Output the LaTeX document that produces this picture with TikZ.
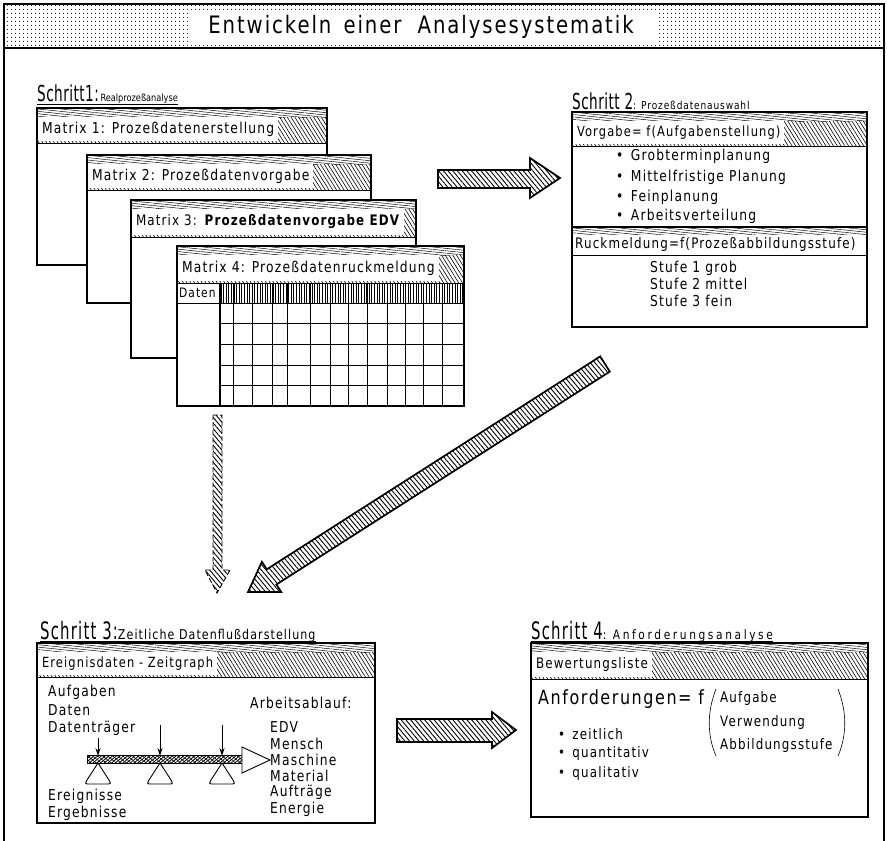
\documentclass[tikz,border=0pt]{standalone}
\usepackage{fontspec}
\setmainfont{DejaVu Sans}[FakeStretch=0.82, LetterSpace=8]
\newfontfamily\schfont{DejaVu Sans}[FakeStretch=0.62, LetterSpace=2]
\usetikzlibrary{patterns.meta,arrows.meta}
\tikzset{
  frameline/.style={line width=2.4pt},
  boxline/.style={line width=1.7pt},
  thinrule/.style={line width=0.9pt},
  gridline/.style={line width=0.7pt},
  steephatch/.style={pattern={Lines[angle=-58,distance=3.2pt,line width=0.6pt]}},
  flathatch/.style={pattern={Lines[angle=-6,distance=2.4pt,line width=0.5pt]}},
  verthatch/.style={pattern={Lines[angle=90,distance=2.6pt,line width=0.7pt]}},
  arrowhatch/.style={pattern={Lines[angle=-50,distance=3.6pt,line width=0.9pt]}},
  crosshatchA/.style={pattern={Lines[angle=40,distance=2.4pt,line width=0.8pt]}},
  crosshatchB/.style={pattern={Lines[angle=-40,distance=3.2pt,line width=0.6pt]}},
  dotfill/.style={pattern={Dots[distance=4pt,radius=0.65pt]}},
  txt/.style={anchor=west, inner sep=0pt},
  item/.style={txt, font=\fontsize{15}{17}\selectfont},
  fitem/.style={txt, font=\fontsize{14.5}{16}\selectfont},
  steplbl/.style={anchor=base west, inner sep=0pt},
  bigarrow/.style={boxline, arrowhatch},
}
% card: L,T,R,B,H(header bottom),label,name,font size
\newcommand{\card}[8]{%
  \fill[white] (#1,#2) rectangle (#3,#4);
  \fill[steephatch] (#1,#2) rectangle (#3,#5);
  \fill[white] (#1,#2) rectangle (#3,{#2+9});
  \fill[flathatch] (#1,#2) rectangle (#3,{#2+9});
  \node[txt, font=\fontsize{#8}{#8}\selectfont, fill=white, inner xsep=4pt,
        minimum height={#5-#2-11}] (#7) at ({#1+0.8},{(#2+9+#5-2)/2}) {#6};
  \draw[boxline] (#1,#2) rectangle (#3,#4);
  \draw[thinrule] (#1,#5) -- (#3,#5);
}
\newcommand{\schA}{\schfont\fontsize{22}{24}\selectfont}
\newcommand{\schB}{\schfont\fontsize{24}{26}\selectfont\addfontfeatures{LetterSpace=5}}
\begin{document}
\begin{tikzpicture}[x=1pt,y=-1pt]
\useasboundingbox (0,0) rectangle (887,841);
\fill[white] (0,0) rectangle (887,841);

% ---------- frame and header ----------
\fill[dotfill] (4,4) rectangle (884,48);
\fill[white] (190,12) rectangle (657,42);
\node[font=\fontsize{24}{26}\selectfont, inner sep=0pt] (title) at (421,27) {Entwickeln\, einer\,\, Analysesystematik};
\draw[frameline] (4,841) -- (4,4) -- (884,4) -- (884,841);
\draw[frameline] (4,48) -- (884,48);

% ---------- Schritt 1 ----------
\node[steplbl] (s1) at (37,101) {{\schA Schritt1:}\,{\fontsize{10}{12}\selectfont\addfontfeatures{LetterSpace=0}Realprozeßanalyse}};
\draw[thinrule] (37,104) -- (s1.south east |- 0,104);

\card{37}{108}{327}{265}{143}{Matrix 1: Prozeßdatenerstellung}{m1}{15}
\card{87}{155}{371}{303}{190}{Matrix 2: Prozeßdatenvorgabe}{m2}{15}
\card{131}{200}{416}{358}{237}{Matrix 3: \textbf{Prozeßdatenvorgabe EDV}}{m3}{14.5}
\card{177}{246}{464}{406}{283}{Matrix 4: Prozeßdatenruckmeldung}{m4}{15}

% Matrix 4 grid
\fill[verthatch] (220,283) rectangle (464,303);
\node[txt, font=\fontsize{13}{15}\selectfont] (daten) at (179,293) {Daten};
\foreach \gx in {233,252,272,287,310,330,348,367,387,405,423,442}
  \draw[gridline] (\gx,283) -- (\gx,406);
\draw[thinrule] (177,303) -- (464,303);
\foreach \gy in {323,344,365,385}
  \draw[gridline] (220,\gy) -- (464,\gy);
\draw[boxline] (220,283) -- (220,406);
\draw[boxline] (177,246) rectangle (464,406);

% ---------- arrow 1 -> 2 ----------
\draw[bigarrow] (438,170) -- (530,170) -- (530,158) -- (560,178) -- (530,198) -- (530,188) -- (438,188) -- cycle;

% ---------- Schritt 2 ----------
\node[steplbl] (s2) at (572,109) {{\schA Schritt 2}{\fontsize{11}{13}\selectfont : Prozeßdatenauswahl}};
\draw[thinrule] (572,111) -- (s2.south east |- 0,111);
\fill[white] (572,112) rectangle (867,327);
\fill[steephatch] (572,112) rectangle (867,146);
\fill[white] (572,112) rectangle (867,121);
\fill[flathatch] (572,112) rectangle (867,121);
\node[txt, font=\fontsize{14}{16}\selectfont, fill=white, inner xsep=4pt, minimum height=23] (vorg) at (572.8,132.5) {Vorgabe= f(Aufgabenstellung)};
\draw[thinrule] (572,146) -- (867,146);
\node[item] (b1) at (616,156) {•\enspace Grobterminplanung};
\node[item] (b2) at (616,177) {•\enspace Mittelfristige Planung};
\node[item] (b3) at (616,197) {•\enspace Feinplanung};
\node[item] (b4) at (616,216) {•\enspace Arbeitsverteilung};
\fill[flathatch] (572,227) rectangle (867,234);
\draw[boxline] (572,227) -- (867,227);
\node[txt, font=\fontsize{14.5}{16}\selectfont] (rueck) at (575,244) {Ruckmeldung=f(Prozeßabbildungsstufe)};
\draw[thinrule] (572,255) -- (867,255);
\node[item] (st1) at (650,268) {Stufe 1 grob};
\node[item] (st2) at (650,284) {Stufe 2 mittel};
\node[item] (st3) at (650,301) {Stufe 3 fein};
\draw[boxline] (572,112) rectangle (867,327);

% ---------- vertical dashed arrow ----------
\draw[dash pattern=on 5pt off 2.5pt, line width=0.9pt, arrowhatch] (213,415) -- (222,415) -- (222,570) -- (230,570) -- (217,593) -- (205,570) -- (213,570) -- cycle;

% ---------- diagonal arrow 2 -> 3 ----------
\draw[bigarrow] (600.2,356.4) -- (266.8,569.3) -- (261.9,561.8) -- (248,592) -- (281.3,592.1) -- (276.4,584.5) -- (609.8,371.6) -- cycle;

% ---------- Schritt 3 ----------
\node[steplbl] (s3) at (40,639) {{\schB Schritt 3:}{\fontsize{13.5}{15}\selectfont Zeitliche Datenflußdarstellung}};
\draw[thinrule] (40,641) -- (s3.south east |- 0,641);
\card{37}{643}{375}{823}{677}{Ereignisdaten - Zeitgraph}{zg}{14}
\node[item] (auf) at (48,692) {Aufgaben};
\node[item] (dat) at (48,710) {Daten};
\node[item] (dtr) at (48,728) {Datenträger};
\node[item] (ere) at (48,796) {Ereignisse};
\node[item] (erg) at (48,813) {Ergebnisse};
\node[item] (aab) at (250,703) {Arbeitsablauf:};
\node[item] (edv) at (270,727) {EDV};
\node[item] (men) at (270,744) {Mensch};
\node[item] (mas) at (270,760) {Maschine};
\node[item] (mat) at (270,776) {Material};
\node[item] (auftr) at (270,792) {Aufträge};
\node[item] (ene) at (270,809) {Energie};
% time bar
\fill[crosshatchA] (87,755) rectangle (242,763);
\fill[crosshatchB] (87,755) rectangle (242,763);
\draw[thinrule] (87,755) rectangle (242,763);
\draw[thinrule, fill=white] (242,747) -- (270,760) -- (242,773) -- cycle;
\foreach \ex/\ey in {98/738,160/725,222/725}{
  \draw[thinrule, fill=white] (\ex,763) -- ({\ex-11},780) .. controls ({\ex-13},784) .. ({\ex-8},784) -- ({\ex+8},784) .. controls ({\ex+13},784) .. ({\ex+11},780) -- cycle;
  \draw[line width=0.9pt, -{Stealth[length=8pt,width=5pt]}] (\ex,\ey) -- (\ex,756);
}

% ---------- arrow 3 -> 4 ----------
\draw[bigarrow] (397,719) -- (492,719) -- (492,712) -- (516,730) -- (492,748) -- (492,742) -- (397,742) -- cycle;

% ---------- Schritt 4 ----------
\node[steplbl] (s4) at (531,639) {{\schB Schritt 4}{\fontsize{13}{15}\selectfont\addfontfeatures{LetterSpace=20}:\enspace Anforderungsanalyse}};
\draw[thinrule] (531,641) -- (s4.south east |- 0,641);
\card{531}{643}{868}{817}{679}{Bewertungsliste}{bl}{14.5}
\node[txt, font=\fontsize{19.5}{22}\selectfont] (anf) at (538,699) {Anforderungen= f};
\draw[line width=0.6pt] (716,689) .. controls (707,712) and (707,735) .. (716,756);
\draw[line width=0.6pt] (838,689) .. controls (847,712) and (847,735) .. (838,756);
\node[fitem] (fa1) at (720,698) {Aufgabe};
\node[fitem] (fa2) at (720,722) {Verwendung};
\node[fitem] (fa3) at (720,745) {Abbildungsstufe};
\node[fitem] (q1) at (558,734) {•\enspace zeitlich};
\node[fitem] (q2) at (558,753) {•\enspace quantitativ};
\node[fitem] (q3) at (558,773) {•\enspace qualitativ};
\end{tikzpicture}
\end{document}
